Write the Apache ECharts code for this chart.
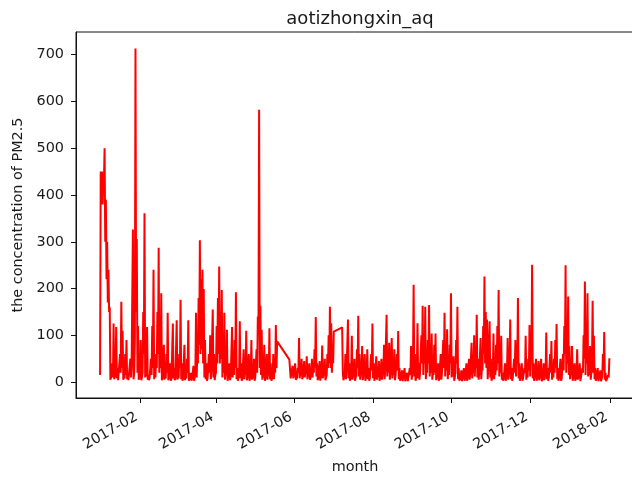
<!DOCTYPE html>
<html>
<head>
<meta charset="utf-8">
<script src="https://cdn.jsdelivr.net/npm/echarts@6/dist/echarts.min.js"></script>
<style>
  html, body { margin: 0; padding: 0; background: #ffffff; }
  #chart { width: 632px; height: 479px; }
</style>
</head>
<body>
<div id="chart"></div>
<script>
// PM2.5 readings at the Aotizhongxin station, two per day:
// a midnight reading (...Night) and a noon reading (...Day).
// null marks days with no record; the line is drawn straight across them.
const chartTitle = 'aotizhongxin_aq';
const xAxisName = 'month';
const yAxisName = 'the concentration of PM2.5';

const firstDay = [2017, 0, 1];

const jan2017Night = [15, 420, 380, 430, 300, 220, 170, 150, 5, 8, 10, 6, 10, 8, 4, 6,
  20, 30, 5, 8, 15, 6, 4, 8, 10, 40, 6, 90, 150, 20, 5];
const jan2017Day = [450, 450, 445, 500, 390, 300, 240, 160, 10, 40, 125, 20, 118, 30, 8, 60,
  172, 110, 15, 60, 90, 20, 8, 50, 40, 326, 20, 713, 306, 120, 15];
const feb2017Night = [8, 4, 20, 60, 10, 12, 5, 4, 6, 15, 30, 6, 10, 30, 60, 20,
  30, 4, 10, 5, 8, 20, 4, 6, 3, 10, 8, 4];
const feb2017Day = [90, 10, 150, 361, 60, 118, 15, 10, 50, 120, 240, 30, 60, 150, 287, 100,
  190, 10, 80, 20, 60, 148, 10, 40, 8, 125, 30, 12];
const mar2017Night = [15, 5, 8, 30, 6, 3, 10, 4, 8, 20, 3, 5, 3, 6, 3, 20,
  10, 40, 80, 60, 70, 40, 10, 6, 3, 8, 20, 6, 30, 10, 4];
const mar2017Day = [132, 20, 60, 176, 40, 8, 80, 15, 50, 132, 10, 20, 8, 35, 10, 148,
  60, 180, 303, 220, 240, 199, 90, 40, 8, 60, 100, 30, 155, 60, 15];
const apr2017Night = [20, 40, 60, 40, 50, 10, 20, 5, 15, 3, 8, 4, 15, 10, 15, 30,
  6, 3, 15, 8, 3, 10, 6, 15, 4, 10, 3, 15, 5, 8];
const apr2017Day = [120, 180, 247, 150, 197, 60, 148, 20, 112, 10, 40, 15, 118, 60, 90, 192,
  30, 10, 130, 40, 8, 70, 25, 110, 12, 60, 8, 90, 20, 50];
const may2017Night = [3, 10, 20, 100, 30, 15, 5, 10, 3, 8, 5, 15, 6, 3, 10, 6,
  20, 30, null, null, null, null, null, null, null, null, null, 48, 8, 12, 8];
const may2017Day = [10, 70, 140, 582, 163, 112, 20, 80, 10, 60, 20, 115, 40, 5, 60, 30,
  122, 87, null, null, null, null, null, null, null, null, null, 48, 10, 35, 15];
const jun2017Night = [12, 5, 10, 20, 8, 15, 6, 14, 10, 18, 6, 12, 5, 15, 10, 20,
  30, 12, 4, 12, 3, 20, 8, 14, 4, 15, 30, 40, 30, 20];
const jun2017Day = [40, 8, 30, 94, 20, 50, 12, 45, 25, 55, 15, 40, 10, 50, 30, 70,
  139, 40, 10, 45, 5, 78, 20, 50, 10, 60, 100, 161, 126, 60];
const jul2017Night = [40, null, null, null, null, null, null, 117, 4, 15, 6, 30, 8, 3, 20, 5,
  10, 3, 15, 30, 12, 5, 15, 4, 12, 3, 15, 6, 3, 10, 25];
const jul2017Day = [108, null, null, null, null, null, null, 20, 10, 60, 30, 134, 40, 8, 99, 20,
  50, 10, 70, 142, 60, 20, 77, 15, 60, 10, 70, 30, 8, 60, 125];
const aug2017Night = [8, 3, 12, 5, 10, 3, 10, 5, 15, 6, 30, 12, 20, 5, 20, 8,
  15, 4, 12, 25, 6, 3, 5, 2, 6, 2, 5, 2, 6, 15, 5];
const aug2017Day = [40, 10, 55, 20, 45, 8, 50, 20, 80, 30, 144, 60, 84, 20, 94, 40,
  70, 15, 60, 109, 30, 8, 25, 5, 30, 6, 20, 5, 30, 77, 20];
const sep2017Night = [40, 12, 3, 25, 8, 5, 20, 40, 15, 40, 6, 20, 40, 12, 20, 5,
  15, 20, 4, 8, 3, 12, 5, 20, 30, 12, 25, 6, 15, 40];
const sep2017Day = [208, 60, 10, 126, 40, 20, 100, 163, 80, 161, 30, 90, 165, 60, 104, 20,
  80, 104, 15, 40, 8, 60, 20, 90, 148, 60, 113, 30, 80, 190];
const oct2017Night = [10, 12, 3, 20, 40, 6, 3, 5, 2, 6, 3, 8, 3, 10, 5, 20,
  8, 20, 12, 30, 10, 5, 20, 6, 25, 60, 40, 30, 6, 30, 10];
const oct2017Day = [40, 55, 10, 90, 161, 30, 10, 25, 5, 30, 8, 40, 10, 50, 20, 84,
  40, 100, 60, 144, 50, 20, 94, 30, 120, 226, 150, 134, 30, 130, 50];
const nov2017Night = [3, 20, 6, 15, 25, 40, 12, 20, 5, 3, 8, 3, 20, 5, 30, 6,
  3, 10, 20, 12, 40, 8, 3, 8, 3, 6, 20, 5, 10, 25];
const nov2017Day = [10, 104, 30, 80, 120, 197, 60, 99, 20, 8, 40, 10, 94, 20, 134, 30,
  10, 50, 90, 60, 180, 40, 10, 40, 8, 30, 99, 20, 50, 122];
const dec2017Night = [12, 50, 8, 3, 10, 3, 10, 4, 10, 2, 8, 4, 20, 6, 3, 12,
  20, 5, 10, 20, 30, 6, 3, 10, 3, 12, 25, 60, 20, 40, 15];
const dec2017Day = [60, 251, 40, 10, 50, 8, 45, 12, 50, 6, 40, 15, 106, 30, 10, 60,
  88, 20, 50, 90, 124, 30, 10, 50, 8, 60, 120, 250, 90, 183, 77];
const jan2018Night = [6, 15, 3, 8, 3, 15, 5, 8, 2, 6, 20, 50, 15, 40, 12, 15,
  5, 40, 20, 6, 3, 6, 2, 5, 2, 12, 25, 5, 2, 4, 10];
const jan2018Day = [30, 77, 10, 40, 8, 70, 20, 40, 5, 30, 100, 215, 80, 190, 60, 77,
  20, 174, 99, 30, 8, 30, 5, 25, 6, 60, 107, 20, 5, 15, 51];

const xTickLabels = ['2017-02', '2017-04', '2017-06', '2017-08', '2017-10', '2017-12', '2018-02'];
const yTickValues = [0, 100, 200, 300, 400, 500, 600, 700];

const nightReadings = [].concat(jan2017Night, feb2017Night, mar2017Night, apr2017Night,
  may2017Night, jun2017Night, jul2017Night, aug2017Night, sep2017Night, oct2017Night,
  nov2017Night, dec2017Night, jan2018Night);
const dayReadings = [].concat(jan2017Day, feb2017Day, mar2017Day, apr2017Day,
  may2017Day, jun2017Day, jul2017Day, aug2017Day, sep2017Day, oct2017Day,
  nov2017Day, dec2017Day, jan2018Day);

// Interleave the two readings of each day on the time line.
const points = [];
nightReadings.forEach((night, i) => {
  const midnight = new Date(firstDay[0], firstDay[1], firstDay[2] + i, 0).getTime();
  const noon = new Date(firstDay[0], firstDay[1], firstDay[2] + i, 12).getTime();
  points.push([midnight, night]);
  points.push([noon, dayReadings[i]]);
});

const DAY = 86400000;
const start = new Date(firstDay[0], firstDay[1], firstDay[2]).getTime();
const plotWidth = 558;
const xMin = start - 18.7 * DAY;
const xMax = xMin + (plotWidth / 1.2877) * DAY;

const xTickValues = xTickLabels.map(s => {
  const [y, m] = s.split('-').map(Number);
  return new Date(y, m - 1, 1).getTime();
});

const font = 'DejaVu Sans';
const ink = '#1a1a1a';

const chart = echarts.init(document.getElementById('chart'), null, { renderer: 'canvas' });
chart.setOption({
  animation: false,
  backgroundColor: '#ffffff',
  title: {
    text: chartTitle,
    left: 355,
    top: 5,
    textAlign: 'center',
    textStyle: { fontFamily: font, fontSize: 18, fontWeight: 'normal', color: ink }
  },
  grid: {
    left: 76, top: 32, width: plotWidth, height: 366,
    containLabel: false,
    outerBoundsMode: 'none',
    show: true, borderColor: '#111', borderWidth: 1, backgroundColor: 'transparent'
  },
  xAxis: {
    type: 'value',
    scale: true,
    min: xMin,
    max: xMax,
    name: xAxisName,
    nameLocation: 'middle',
    nameGap: 62,
    nameTextStyle: { fontFamily: font, fontSize: 14.4, color: ink },
    axisLine: { show: true, onZero: false, lineStyle: { color: '#111', width: 1 } },
    axisTick: { show: true, length: 5, inside: false, customValues: xTickValues,
      lineStyle: { color: '#111', width: 1 } },
    axisLabel: {
      customValues: xTickValues,
      rotate: 30,
      margin: 16,
      padding: [0, 4, 0, 0],
      fontFamily: font, fontSize: 14.4, color: ink,
      formatter: v => {
        const d = new Date(v);
        return d.getFullYear() + '-' + String(d.getMonth() + 1).padStart(2, '0');
      }
    },
    splitLine: { show: false }
  },
  yAxis: {
    type: 'value',
    min: -34,
    max: 748.5,
    name: yAxisName,
    nameLocation: 'middle',
    nameGap: 50,
    nameTextStyle: { fontFamily: font, fontSize: 14.4, color: ink },
    axisLine: { show: true, onZero: false, lineStyle: { color: '#111', width: 1 } },
    axisTick: { show: true, length: 5, inside: false, customValues: yTickValues,
      lineStyle: { color: '#111', width: 1 } },
    axisLabel: { customValues: yTickValues, margin: 12,
      fontFamily: font, fontSize: 14.4, color: ink },
    splitLine: { show: false }
  },
  series: [{
    type: 'line',
    data: points,
    connectNulls: true,
    showSymbol: false,
    symbol: 'none',
    lineStyle: { color: '#ff0000', width: 2 },
    itemStyle: { color: '#ff0000' }
  }]
});
</script>
</body>
</html>
